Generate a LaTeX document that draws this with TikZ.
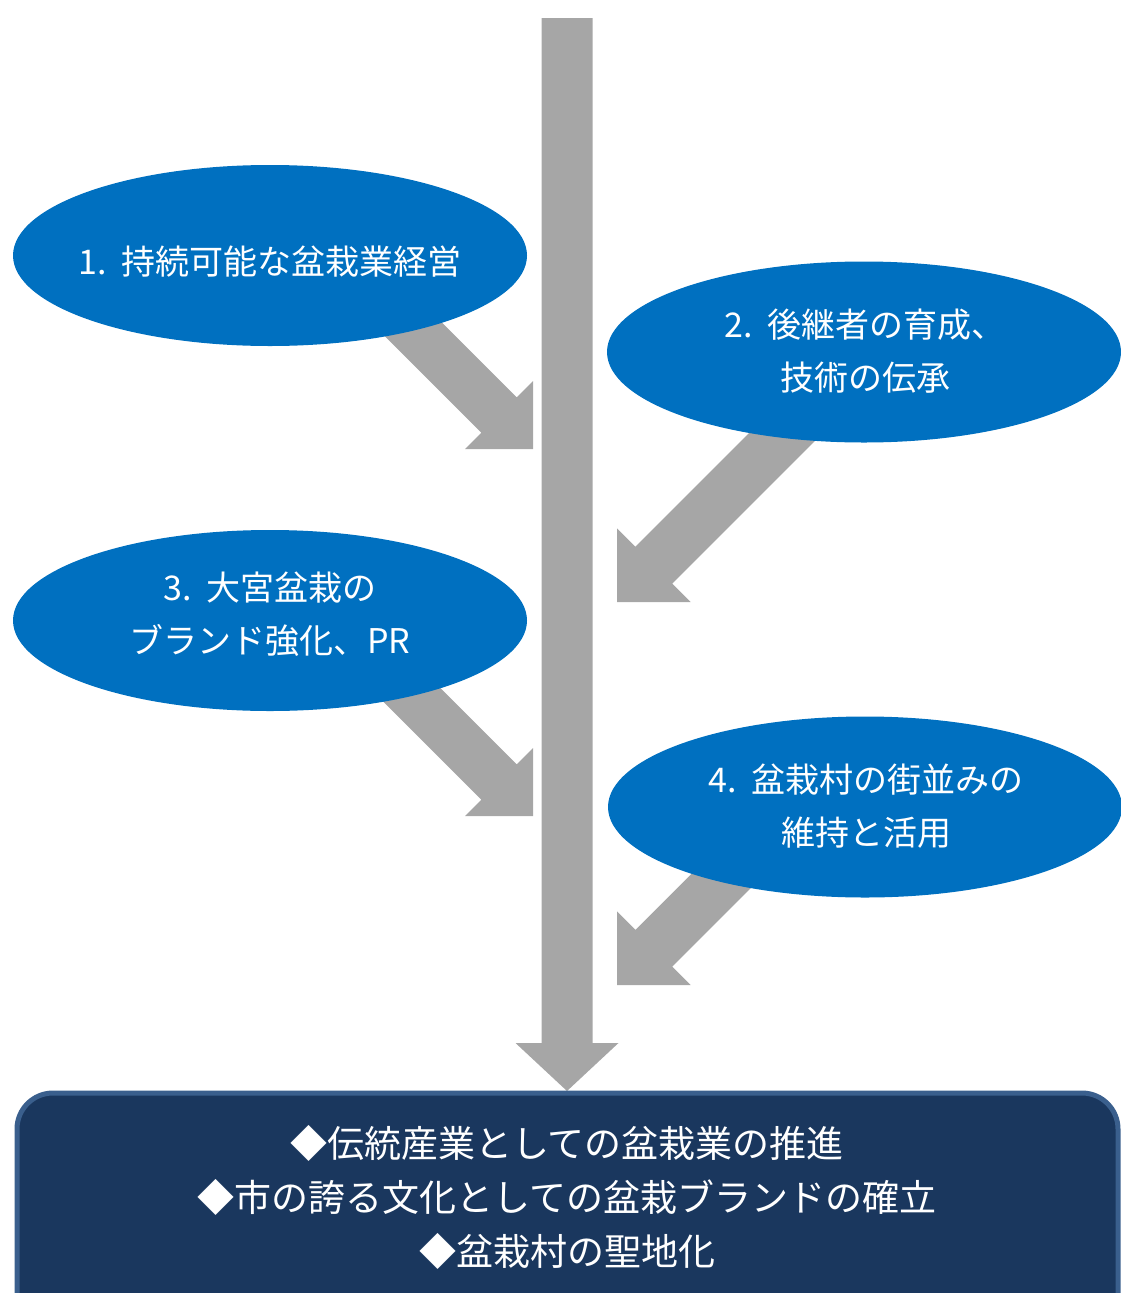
\documentclass[tikz,border=0pt]{standalone}
\usepackage{fontspec}
\setmainfont{Noto Sans CJK JP}
\usetikzlibrary{shapes.geometric}
\definecolor{arrowgray}{HTML}{A6A6A6}
\definecolor{ellblue}{HTML}{0070C0}
\definecolor{boxfill}{HTML}{1A375E}
\definecolor{boxline}{HTML}{3A5F8D}
\tikzset{
  ell/.style={ellipse, fill=ellblue, minimum width=514pt, minimum height=181pt, inner sep=0pt},
  etext/.style={text=white, align=center, font=\fontsize{34}{53}\selectfont, inner sep=0pt},
  btext/.style={text=white, align=center, font=\fontsize{37}{54}\selectfont, inner sep=0pt},
  goalbox/.style={fill=boxfill, draw=boxline, line width=5pt, rounded corners=36pt},
}
% #1 tip, #2 angle, #3 total length, #4 head length, #5 head half width, #6 shaft half width
\newcommand\blockarrow[6]{%
  \fill[arrowgray, shift={(#1)}, rotate=#2]
    (0pt,0pt) -- (-#4pt,#5pt) -- (-#4pt,#6pt) -- (-#3pt,#6pt) -- (-#3pt,-#6pt)
    -- (-#4pt,-#6pt) -- (-#4pt,-#5pt) -- cycle;}
\begin{document}
\begin{tikzpicture}[x=1pt,y=-1pt]
\useasboundingbox (0,0) rectangle (1120,1293);
% main vertical arrow
\coordinate (maintip) at (567,1091);
\blockarrow{maintip}{-90}{1073}{48}{51.5}{25.5}
% diagonal arrows
\coordinate (tip1) at (533,449);
\coordinate (tip2) at (617,602);
\coordinate (tip3) at (533,816);
\coordinate (tip4) at (617,985);
\blockarrow{tip1}{-45}{259}{48}{48}{25}
\blockarrow{tip2}{-135}{287}{52}{52}{26}
\blockarrow{tip3}{-45}{259}{48}{48}{25}
\blockarrow{tip4}{-135}{202}{52}{52}{26}
% ellipses
\node[ell] (e1) at (270,255.5) {};
\node[ell] (e2) at (864,352) {};
\node[ell] (e3) at (270,620.5) {};
\node[ell] (e4) at (865,807) {};
\node[etext] (t1) at (270,262) {1.\ \ 持続可能な盆栽業経営};
\node[etext] (t2) at (865,351.5) {2.\ \ 後継者の育成、\\技術の伝承};
\node[etext] (t3) at (270,614.5) {3.\ \ 大宮盆栽の\\ブランド強化、PR};
\node[etext] (t4) at (866,806.5) {4.\ \ 盆栽村の街並みの\\維持と活用};
% goal box
\draw[goalbox] (17,1093) rectangle (1118,1360);
\node[btext] (goal) at (567,1197) {◆伝統産業としての盆栽業の推進\\◆市の誇る文化としての盆栽ブランドの確立\\◆盆栽村の聖地化};
\end{tikzpicture}
\end{document}
